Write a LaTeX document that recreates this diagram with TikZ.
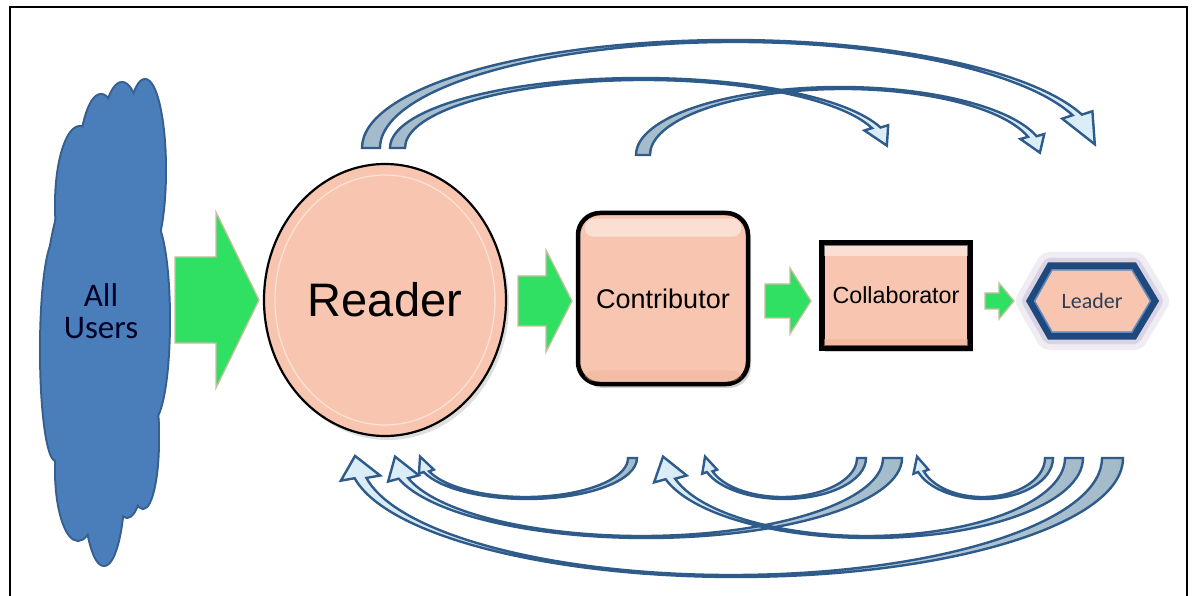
\documentclass[tikz,border=0pt]{standalone}
\usepackage{fontspec}
\setmainfont{Liberation Sans}
\newfontfamily\calib{Carlito}
\usetikzlibrary{shadows,shapes.geometric,calc}
\definecolor{peach}{HTML}{F8C6B0}
\definecolor{peachlight}{HTML}{FDE2D5}
\definecolor{peachdark}{HTML}{EFB096}
\definecolor{gfill}{HTML}{30E062}
\definecolor{gline}{HTML}{C9BD9E}
\definecolor{cloudfill}{HTML}{4A7EBB}
\definecolor{cloudline}{HTML}{365E8E}
\definecolor{arrline}{HTML}{2E5B8A}
\definecolor{arrtail}{HTML}{A3BACA}
\definecolor{arrhead}{HTML}{DCEEF8}
\definecolor{leaderblue}{HTML}{1F497D}
\definecolor{leaderbevel}{HTML}{5E88BE}
\definecolor{leadertext}{HTML}{2C3E57}
\definecolor{glowc}{HTML}{A99BC0}

\tikzset{
  framestyle/.style={line width=2pt, black},
  cloudedge/.style={draw=cloudline, line width=4pt},
  garrowstyle/.style={fill=gfill, draw=gline, line width=1.3pt, line join=miter},
  toparr/.style={draw=arrline, line width=2.4pt, line join=miter, left color=arrtail, right color=arrhead},
  botarr/.style={draw=arrline, line width=2.4pt, line join=miter, left color=arrhead, right color=arrtail},
  readerbox/.style={ellipse, draw=black, line width=2.2pt, fill=peach, minimum width=242pt,
    minimum height=272pt, inner sep=0pt, font=\fontsize{47}{50}\selectfont,
    drop shadow={shadow xshift=3pt, shadow yshift=-4pt, opacity=0.25}},
  contribbox/.style={rectangle, rounded corners=22pt, draw=black, line width=4.5pt, fill=peach,
    minimum width=170pt, minimum height=171pt, inner sep=0pt, font=\fontsize{27}{30}\selectfont,
    drop shadow={shadow xshift=3pt, shadow yshift=-4pt, opacity=0.35}},
  collabbox/.style={rectangle, draw=black, line width=6pt, fill=peach,
    minimum width=148pt, minimum height=105pt, inner sep=0pt, font=\fontsize{23.3}{26}\selectfont,
    drop shadow={shadow xshift=3pt, shadow yshift=-4pt, opacity=0.35}},
  leadertxt/.style={inner sep=0pt, text=leadertext, font=\calib\fontsize{22}{24}\selectfont},
  userstxt/.style={inner sep=0pt, text=black!85!blue, align=center, font=\calib\fontsize{33}{32}\selectfont},
}

% curved band arrow along elliptical arcs; the inner arc's centre is moved by \bandshift
% #1 centre, #2 outer rx, #3 outer ry, #4 inner rx, #5 inner ry,
% #6 tail angle, #7 head-base angle, #8 tip angle, #9 barb size
\def\bandshift{0}
\newcommand\bandarrow[9]{%
  \pgfmathsetmacro\bArx{#2*cos(#6)}\pgfmathsetmacro\bAry{#3*sin(#6)}%
  \pgfmathsetmacro\bBrx{(#2+#9)*cos(#7)}\pgfmathsetmacro\bBry{(#3+#9)*sin(#7)}%
  \pgfmathsetmacro\bCrx{(#2+#4)/2*cos(#8)+\bandshift/2}\pgfmathsetmacro\bCry{(#3+#5)/2*sin(#8)}%
  \pgfmathsetmacro\bDrx{(#4-#9)*cos(#7)+\bandshift}\pgfmathsetmacro\bDry{(#5-#9)*sin(#7)}%
  \pgfmathsetmacro\bErx{#4*cos(#7)+\bandshift}\pgfmathsetmacro\bEry{#5*sin(#7)}%
  \begin{scope}[shift={#1}]
    \path[bandstyle] (\bArx,\bAry)
      arc[start angle=#6, end angle=#7, x radius=#2, y radius=#3]
      -- (\bBrx,\bBry) -- (\bCrx,\bCry) -- (\bDrx,\bDry) -- (\bErx,\bEry)
      arc[start angle=#7, end angle=#6, x radius=#4, y radius=#5] -- cycle;
  \end{scope}}

% green block arrow: x tail, x head base, x tip, y centre, shaft half width, head half width
\newcommand\garrow[6]{%
  \path[garrowstyle] (#1,{#4-#5}) -- (#2,{#4-#5}) -- (#2,{#4-#6}) -- (#3,#4)
    -- (#2,{#4+#6}) -- (#2,{#4+#5}) -- (#1,{#4+#5}) -- cycle;}

\begin{document}
\begin{tikzpicture}[x=1pt,y=-1pt]
\useasboundingbox (0,0) rectangle (1195,596);
\fill[white] (0,0) rectangle (1195,596);

% frame
\draw[framestyle] (10,596) -- (10,7) -- (1187,7) -- (1187,596);

% cloud "All Users"
\foreach \cx/\cy/\rx/\ry in {105/320/60/170, 80/205/24/78, 101/175/22/80, 122/165/22/82,
   145/170/20/90, 152/320/17/100, 140/430/18/50, 56/350/15/110, 78/470/22/70,
   104/480/20/85, 127/445/18/72, 143/440/15/68}
  \draw[cloudedge] (\cx,\cy) ellipse[x radius=\rx, y radius=\ry];
\foreach \cx/\cy/\rx/\ry in {105/320/60/170, 80/205/24/78, 101/175/22/80, 122/165/22/82,
   145/170/20/90, 152/320/17/100, 140/430/18/50, 56/350/15/110, 78/470/22/70,
   104/480/20/85, 127/445/18/72, 143/440/15/68}
  \fill[cloudfill] (\cx,\cy) ellipse[x radius=\rx, y radius=\ry];
\node[userstxt] (users) at (101,311) {All\\Users};

% green arrows
\garrow{175}{216}{259}{300}{43}{88}
\garrow{518}{546}{572}{301}{25}{51}
\garrow{765}{790}{811}{301}{17}{33}
\garrow{985}{999}{1014}{301}{8}{18}

% Reader
\node[readerbox] (reader) at (385,300) {Reader};
\draw[peachlight, line width=1.2pt] (reader.center) ellipse[x radius=110, y radius=125];

% Contributor
\node[contribbox] (contrib) at (663,298.5) {Contributor};
\fill[white, opacity=0.45, rounded corners=9pt]
  ($(contrib.north west)+(9,8)$) rectangle ($(contrib.north east)+(-9,26)$);
\fill[peachdark, opacity=0.45, rounded corners=9pt]
  ($(contrib.south west)+(9,-16)$) rectangle ($(contrib.south east)+(-9,-5)$);

% Collaborator
\node[collabbox] (collab) at (896,295.5) {Collaborator};
\fill[white, opacity=0.45]
  ($(collab.north west)+(5,5)$) rectangle ($(collab.north east)+(-5,16)$);
\fill[peachdark, opacity=0.5]
  ($(collab.south west)+(5,-12)$) rectangle ($(collab.south east)+(-5,-5)$);

% Leader
\draw[glowc, opacity=0.18, line width=28pt, line join=round]
  (1030,301) -- (1050,266) -- (1134,266) -- (1155,301) -- (1134,336) -- (1050,336) -- cycle;
\draw[glowc, opacity=0.3, line width=16pt, line join=round]
  (1030,301) -- (1050,266) -- (1134,266) -- (1155,301) -- (1134,336) -- (1050,336) -- cycle;
\filldraw[fill=peach, draw=leaderblue, line width=7pt, line join=miter]
  (1030,301) -- (1050,266) -- (1134,266) -- (1155,301) -- (1134,336) -- (1050,336) -- cycle;
\draw[leaderbevel, line width=1.5pt, line join=miter]
  (1034.5,301) -- (1052,270) -- (1132,270) -- (1150.5,301) -- (1132,332) -- (1052,332) -- cycle;
\node[leadertxt] (leader) at (1092,301) {Leader};

% upper arrows
\tikzset{bandstyle/.style={toparr}}
\coordinate (ta3) at (840.25,155);
\coordinate (ta2) at (640.75,148);
\coordinate (ta1) at (731,148);
\def\bandshift{2.5}
\bandarrow{(ta3)}{204.25}{68}{192.75}{66}{180}{344}{358}{8}
\def\bandshift{3}
\bandarrow{(ta2)}{250.75}{70}{238.75}{68}{180}{343}{358}{8}
\def\bandshift{4}
\bandarrow{(ta1)}{369}{108}{355}{106}{180}{342}{358}{11}

% lower return arrows
\tikzset{bandstyle/.style={botarr}}
\coordinate (bc3) at (736,458);
\coordinate (bc1) at (646,458);
\coordinate (bc2) at (870.5,458);
\coordinate (bb1) at (527,458);
\coordinate (bb2) at (784,458);
\coordinate (bb3) at (983.5,458);
\def\bandshift{-4.5}
\bandarrow{(bc3)}{387}{119}{370.5}{117}{0}{170.2}{181}{14}
\bandarrow{(bc1)}{256}{80}{241.5}{78}{0}{165}{181}{11}
\def\bandshift{-4}
\bandarrow{(bc2)}{212.5}{80}{198.5}{78}{0}{164.6}{181}{12}
\def\bandshift{-1.5}
\bandarrow{(bb1)}{110}{41}{102.5}{39}{0}{160}{182}{5}
\bandarrow{(bb2)}{82}{41}{74.5}{39}{0}{160}{182}{5}
\def\bandshift{-1}
\bandarrow{(bb3)}{69.5}{41}{62.5}{39}{0}{160}{182}{5}
\end{tikzpicture}
\end{document}
